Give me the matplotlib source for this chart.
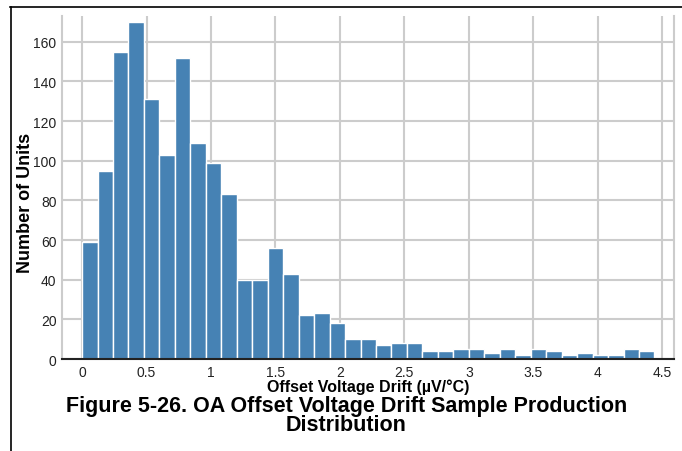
# Import libraries
import numpy as np
import matplotlib.pyplot as plt
from matplotlib.lines import Line2D

plt.rcParams['font.family'] = ['Liberation Sans', 'DejaVu Sans']

# Histogram data: bins start at 0 with a width of 0.12 uV/C
bin_start = 0.0
bin_width = 0.12
counts = [59, 95, 155, 170, 131, 103, 152, 109, 99, 83,
          40, 40, 56, 43, 22, 23, 18, 10, 10, 7,
          8, 8, 4, 4, 5, 5, 3, 5, 2, 5,
          4, 2, 3, 2, 2, 5, 4]
x_ticks = [0, 0.5, 1, 1.5, 2, 2.5, 3, 3.5, 4, 4.5]
x_tick_labels = ["0", "0.5", "1", "1.5", "2", "2.5", "3", "3.5", "4", "4.5"]
y_ticks = [0, 20, 40, 60, 80, 100, 120, 140, 160]

# Bin left edges
lefts = bin_start + bin_width * np.arange(len(counts))

# Create the figure
fig = plt.figure(figsize=(6.82, 4.52), dpi=100)
ax = fig.add_axes([0.091, 0.2035, 0.897, 0.759])

# Draw the bars
ax.bar(lefts, counts, width=bin_width, align="edge",
       color="#4682b4", edgecolor="white", linewidth=1.0, zorder=2)

# Axes limits and ticks
ax.set_xlim(-0.155, 4.59)
ax.set_ylim(0, 173)
ax.set_xticks(x_ticks)
ax.set_xticklabels(x_tick_labels)
ax.set_yticks(y_ticks)
ax.tick_params(length=0, labelsize=10, colors="#222222", pad=4)

# Grid and spines
ax.grid(True, color="#cccccc", linewidth=1.5, zorder=0)
ax.set_axisbelow(True)
ax.spines["top"].set_visible(False)
ax.spines["left"].set_color("#cccccc")
ax.spines["right"].set_color("#cccccc")
ax.spines["left"].set_linewidth(1.5)
ax.spines["right"].set_linewidth(1.5)
ax.spines["bottom"].set_color("#222222")
ax.spines["bottom"].set_linewidth(1.5)
ax.spines["bottom"].set_zorder(3)

# Labels
ax.set_xlabel("Offset Voltage Drift (µV/°C)", fontsize=11.5,
              fontweight="bold", labelpad=0)
ax.set_ylabel("Number of Units", fontsize=13, fontweight="bold")
ax.yaxis.set_label_coords(-0.06, 0.458)
ax.yaxis.label.set_va("center")

# Caption
fig.text(0.508, 0.080, "Figure 5-26. OA Offset Voltage Drift Sample Production\nDistribution",
         ha="center", va="center", fontsize=15.5, fontweight="bold", linespacing=0.88)

# Page frame lines
fig.add_artist(Line2D([0.015, 1.0], [1 - 8 / 452, 1 - 8 / 452], color="black", linewidth=1.2))
fig.add_artist(Line2D([0.016, 0.016], [0.0, 1 - 8 / 452], color="black", linewidth=1.2))

# Save the plot as a PNG file
plt.savefig("out.png", dpi=100)
